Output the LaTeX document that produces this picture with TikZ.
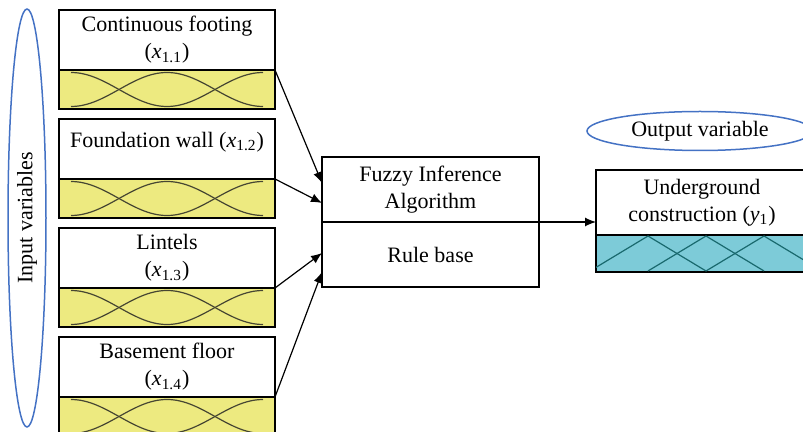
\documentclass[tikz,border=0pt]{standalone}
\usepackage{fontspec}
\setmainfont{Liberation Serif}
\usetikzlibrary{shapes.geometric,arrows.meta,positioning,calc}
\definecolor{mfyellow}{RGB}{237,234,128}
\definecolor{mfteal}{RGB}{125,203,216}
\definecolor{ovalblue}{RGB}{68,114,196}
\definecolor{curvegray}{RGB}{70,70,50}
\definecolor{tealline}{RGB}{25,105,110}

\begin{document}
\begin{tikzpicture}[x=0.5pt, y=-0.5pt,
    every node/.style={font=\fontsize{11}{13.5}\selectfont},
    varbox/.style={rectangle, draw, line width=0.7pt, fill=white, minimum width=108pt, minimum height=30pt, inner sep=0pt, outer sep=0pt, align=center},
    mfbox/.style={rectangle, draw, line width=0.7pt, fill=mfyellow, minimum width=108pt, minimum height=19.5pt, inner sep=0pt, outer sep=0pt},
    fisbox/.style={rectangle, draw, line width=0.7pt, minimum width=108.5pt, minimum height=32.5pt, inner sep=0pt, outer sep=0pt, align=center},
    oval/.style={ellipse, draw=ovalblue, line width=0.75pt, inner sep=0pt},
    link/.style={-{Latex[length=5.5pt,width=4.5pt]}, line width=0.6pt}
]
\useasboundingbox (0,0) rectangle (803,432);
\clip (0,0) rectangle (803,432);

% Input variables
\node[oval, minimum width=209pt, minimum height=19pt, rotate=90] (inoval) at (27,218) {Input variables};

\foreach \i/\top/\name in {1/10/{Continuous footing\\(\textit{x}\textsubscript{1.1})},
                           2/119/{Foundation wall (\textit{x}\textsubscript{1.2})\\[-4pt]\mbox{}},
                           3/228/{Lintels\\(\textit{x}\textsubscript{1.3})},
                           4/337/{Basement floor\\(\textit{x}\textsubscript{1.4})}} {
    \node[varbox] (var\i) at (167,\top+30) {\name};
    \node[mfbox, below=0pt of var\i] (mf\i) {};
    \begin{scope}[shift={(mf\i.center)}]
        \draw[curvegray, line width=0.6pt] plot[domain=-96:96, samples=41, smooth] (\x, {17*cos(1.875*\x)});
        \draw[curvegray, line width=0.6pt] plot[domain=-96:96, samples=41, smooth] (\x, {-17*cos(1.875*\x)});
    \end{scope}
}

% Inference block
\node[fisbox] (alg) at (430.5,189.5) {Fuzzy Inference\\Algorithm};
\node[fisbox, below=0pt of alg] (rules) {Rule base};

% Inputs to inference
\draw[link] (var1.south east) -- ([yshift=3.25pt]alg.west);
\draw[link] (var2.south east) -- ([yshift=-6.75pt]alg.west);
\draw[link] (var3.south east) -- ([yshift=0.75pt]rules.west);
\draw[link] (var4.south east) -- ([yshift=-8.75pt]rules.west);

% Output variable
\node[oval, minimum width=113pt, minimum height=19.5pt] (outoval) at (700,131) {Output variable};
\node[varbox, minimum width=106pt, minimum height=32.5pt] (out) at (702,202.5) {Underground\\construction (\textit{y}\textsubscript{1})};
\node[mfbox, fill=mfteal, minimum width=106pt, minimum height=18.5pt, below=0pt of out] (outmf) {};
\begin{scope}
    \clip (outmf.south west) rectangle (outmf.north east);
    \foreach \p in {52,110,168} {
        \draw[tealline, line width=0.6pt] ($(outmf.west)+(\p-58,17.5)$) -- ($(outmf.west)+(\p,-17.5)$) -- ($(outmf.west)+(\p+58,17.5)$);
    }
\end{scope}

\draw[link] (alg.south east) -- (out.west |- alg.south east);

\end{tikzpicture}
\end{document}
